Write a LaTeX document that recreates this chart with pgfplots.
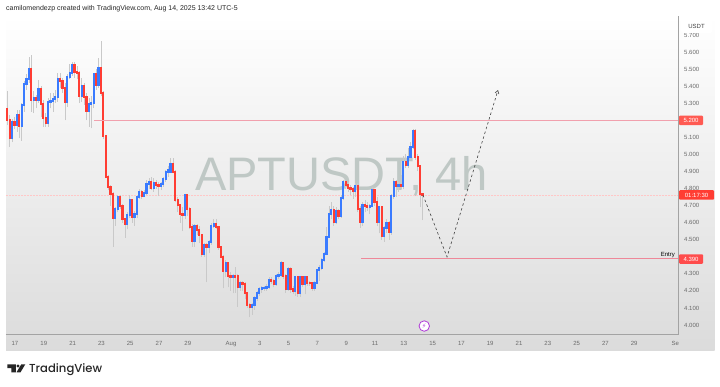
\documentclass[border=0pt]{standalone}
\usepackage{fontspec}
\setmainfont{Liberation Sans}
\newfontfamily\tvfont{Poppins}[UprightFont=* Medium]
\newfontfamily\djv{DejaVu Sans}
\usepackage{pgfplots}
\usepackage{pgfplotstable}
\pgfplotsset{compat=1.18}
\usetikzlibrary{arrows.meta}
\definecolor{cblue}{HTML}{3A7BFF}
\definecolor{cred}{HTML}{FF3D33}
\definecolor{wick}{HTML}{C9C9C9}
\definecolor{axgray}{HTML}{A3A3A3}
\definecolor{labgray}{HTML}{6A6A6A}
\definecolor{wm}{HTML}{BFC8C5}
\definecolor{entryc}{HTML}{EE8899}
\definecolor{bolt}{HTML}{B03CD8}
\pgfplotstableread{
i o c h l
0 5.266 5.201 5.373 5.172
1 5.201 5.094 5.23 5.045
2 5.094 5.192 5.21 5.07
3 5.192 5.172 5.22 5.15
4 5.172 5.231 5.26 5.13
5 5.231 5.166 5.26 5.094
6 5.166 5.289 5.30 5.08
7 5.289 5.412 5.43 5.25
8 5.412 5.440 5.47 5.38
9 5.440 5.500 5.573 5.42
10 5.500 5.319 5.582 5.250
11 5.319 5.328 5.37 5.24
12 5.328 5.318 5.35 5.27
13 5.318 5.381 5.436 5.30
14 5.381 5.295 5.40 5.22
15 5.295 5.211 5.32 5.162
16 5.211 5.186 5.24 5.162
17 5.186 5.309 5.33 5.16
18 5.309 5.315 5.36 5.27
19 5.315 5.323 5.36 5.25
20 5.323 5.338 5.38 5.30
21 5.338 5.440 5.479 5.31
22 5.440 5.432 5.475 5.39
23 5.432 5.387 5.45 5.36
24 5.387 5.309 5.42 5.20
25 5.309 5.455 5.47 5.28
26 5.455 5.479 5.53 5.44
27 5.479 5.524 5.543 5.46
28 5.524 5.485 5.54 5.45
29 5.485 5.475 5.52 5.44
30 5.475 5.342 5.49 5.30
31 5.342 5.403 5.45 5.31
32 5.403 5.338 5.42 5.29
33 5.338 5.254 5.36 5.20
34 5.254 5.295 5.33 5.162
35 5.295 5.30 5.34 5.153
36 5.30 5.471 5.48 5.27
37 5.471 5.407 5.50 5.38
38 5.407 5.508 5.563 5.39
39 5.508 5.358 5.665 5.34
40 5.358 5.108 5.37 5.09
41 5.108 4.870 5.11 4.86
42 4.870 4.807 4.88 4.79
43 4.807 4.768 4.82 4.70
44 4.768 4.625 4.78 4.46
45 4.625 4.678 4.69 4.58
46 4.678 4.748 4.76 4.66
47 4.748 4.698 4.76 4.68
48 4.698 4.619 4.71 4.60
49 4.619 4.592 4.63 4.51
50 4.592 4.645 4.66 4.56
51 4.645 4.733 4.76 4.63
52 4.733 4.631 4.74 4.60
53 4.631 4.651 4.67 4.58
54 4.651 4.748 4.76 4.63
55 4.748 4.782 4.80 4.74
56 4.782 4.756 4.79 4.74
57 4.756 4.772 4.79 4.75
58 4.772 4.827 4.85 4.76
59 4.827 4.840 4.86 4.80
60 4.840 4.801 4.865 4.79
61 4.801 4.834 4.86 4.78
62 4.834 4.821 4.85 4.80
63 4.821 4.815 4.84 4.755
64 4.815 4.825 4.84 4.79
65 4.825 4.854 4.87 4.81
66 4.854 4.899 4.91 4.84
67 4.899 4.907 4.93 4.87
68 4.900 4.944 4.98 4.89
69 4.944 4.899 4.98 4.89
70 4.899 4.733 4.91 4.72
71 4.733 4.703 4.75 4.66
72 4.703 4.651 4.71 4.60
73 4.651 4.643 4.69 4.55
74 4.643 4.762 4.77 4.62
75 4.762 4.678 4.77 4.64
76 4.678 4.576 4.69 4.56
77 4.576 4.494 4.59 4.46
78 4.494 4.580 4.59 4.46
79 4.580 4.557 4.59 4.53
80 4.557 4.527 4.58 4.48
81 4.527 4.416 4.53 4.40
82 4.416 4.469 4.48 4.40
83 4.469 4.459 4.48 4.25
84 4.459 4.488 4.50 4.42
85 4.488 4.582 4.60 4.47
86 4.582 4.590 4.62 4.57
87 4.590 4.576 4.62 4.56
88 4.576 4.455 4.58 4.44
89 4.455 4.400 4.46 4.39
90 4.400 4.316 4.41 4.215
91 4.316 4.365 4.38 4.28
92 4.365 4.287 4.37 4.22
93 4.287 4.279 4.31 4.20
94 4.279 4.287 4.30 4.186
95 4.287 4.279 4.34 4.19
96 4.287 4.225 4.30 4.107
97 4.225 4.244 4.26 4.20
98 4.244 4.238 4.26 4.20
99 4.238 4.186 4.25 4.15
100 4.186 4.117 4.19 4.10
101 4.117 4.104 4.13 4.045
102 4.104 4.117 4.13 4.06
103 4.117 4.156 4.17 4.09
104 4.156 4.186 4.20 4.14
105 4.186 4.211 4.22 4.17
106 4.211 4.215 4.23 4.19
107 4.215 4.219 4.23 4.20
108 4.219 4.225 4.24 4.20
109 4.225 4.264 4.28 4.21
110 4.264 4.258 4.28 4.24
111 4.258 4.240 4.27 4.22
112 4.240 4.287 4.30 4.23
113 4.287 4.295 4.31 4.27
114 4.295 4.365 4.377 4.28
115 4.365 4.287 4.37 4.27
116 4.287 4.209 4.30 4.19
117 4.209 4.328 4.34 4.20
118 4.328 4.209 4.34 4.19
119 4.209 4.201 4.23 4.18
120 4.201 4.283 4.29 4.17
121 4.283 4.189 4.29 4.166
122 4.189 4.283 4.29 4.166
123 4.283 4.238 4.29 4.22
124 4.238 4.279 4.29 4.18
125 4.279 4.248 4.29 4.23
126 4.248 4.244 4.26 4.23
127 4.244 4.215 4.25 4.20
128 4.215 4.248 4.26 4.20
129 4.248 4.322 4.33 4.24
130 4.322 4.332 4.35 4.26
131 4.332 4.381 4.39 4.32
132 4.381 4.416 4.43 4.37
133 4.416 4.518 4.576 4.41
134 4.518 4.651 4.70 4.51
135 4.651 4.674 4.72 4.62
136 4.674 4.602 4.70 4.58
137 4.602 4.668 4.69 4.59
138 4.668 4.639 4.68 4.62
139 4.639 4.742 4.76 4.63
140 4.742 4.836 4.85 4.73
141 4.836 4.821 4.85 4.80
142 4.821 4.801 4.84 4.78
143 4.801 4.797 4.82 4.76
144 4.797 4.787 4.81 4.74
145 4.787 4.817 4.83 4.75
146 4.817 4.680 4.83 4.66
147 4.680 4.606 4.70 4.57
148 4.606 4.703 4.72 4.58
149 4.703 4.699 4.73 4.66
150 4.699 4.692 4.72 4.67
151 4.692 4.699 4.71 4.65
152 4.699 4.791 4.81 4.69
153 4.791 4.723 4.80 4.70
154 4.723 4.606 4.75 4.58
155 4.606 4.690 4.70 4.537
156 4.690 4.524 4.70 4.50
157 4.524 4.566 4.58 4.488
158 4.566 4.600 4.62 4.54
159 4.600 4.547 4.61 4.50
160 4.547 4.756 4.77 4.53
161 4.756 4.840 4.86 4.74
162 4.840 4.815 4.85 4.75
163 4.815 4.821 4.84 4.78
164 4.821 4.815 4.88 4.80
165 4.815 4.953 4.99 4.80
166 4.953 4.938 5.00 4.92
167 4.938 4.987 5.035 4.92
168 4.987 5.045 5.07 4.97
169 5.045 5.137 5.147 5.03
170 5.137 4.987 5.147 4.97
171 4.987 4.932 5.00 4.90
172 4.932 4.768 4.94 4.69
173 4.768 4.762 4.77 4.615
}\candles
\begin{document}
\begin{tikzpicture}[x=1pt,y=1pt]
\path[use as bounding box] (0,0) rectangle (720,386);
\fill[white] (0,0) rectangle (720,386);
\shade[top color=white,bottom color=black!14] (6,36) rectangle (714.5,370);
\node[anchor=base,text=wm,inner sep=0pt] at (341.5,195) {\fontsize{47}{50}\selectfont APTUSDT, 4h};
\node[anchor=west,inner sep=0pt,text=black!85] at (6,377) {\fontsize{7}{8}\selectfont camilomendezp created with TradingView.com, Aug 14, 2025 13:42 UTC-5};
\begin{axis}[
  at={(6pt,51.4pt)},anchor=south west,
  scale only axis,width=672pt,height=318.6pt,
  xmin=-0.625,xmax=46.04,ymin=3.9437,ymax=5.8113,
  axis x line=bottom,axis y line=right,
  axis line style={draw=axgray,line width=0.9pt,-},
  tick style={draw=none},
  xtick={0,2,4,6,8,10,12,15,17,19,21,23,25,27,29,31,33,35,37,39,41,43,45.85},
  xticklabels={17,19,21,23,25,27,29,Aug,3,5,7,9,11,13,15,17,19,21,23,25,27,29,Se},
  ytick={4.0,4.1,4.2,4.3,4.5,4.6,4.7,4.8,4.9,5.0,5.1,5.3,5.4,5.5,5.6,5.7},
  ticklabel style={font=\fontsize{6}{7}\selectfont,text=labgray},
  xticklabel style={yshift=-1.5pt},
  yticklabel style={xshift=0.5pt,/pgf/number format/.cd,fixed,fixed zerofill,precision=3,assume math mode=true},
  clip=true,
]
\addplot[red!22!white,line width=0.5pt,densely dotted,forget plot] coordinates {(-0.625,4.762) (46.04,4.762)};
\addplot[draw=none,mark=none,forget plot,error bars/.cd,y dir=plus,y explicit,error mark=none,error bar style={draw=wick,line width=0.7pt}]
  table[x expr=\thisrow{i}/6-0.533,y=l,y error plus expr=\thisrow{h}-\thisrow{l},y error minus expr=0]{\candles};
\addplot[draw=none,mark=none,forget plot,restrict expr to domain={\thisrow{c}-\thisrow{o}}{0:10},error bars/.cd,y dir=plus,y explicit,error mark=none,error bar style={draw=cblue,line width=2.1pt,line cap=rect}]
  table[x expr=\thisrow{i}/6-0.533,y=o,y error plus expr=\thisrow{c}-\thisrow{o},y error minus expr=0]{\candles};
\addplot[draw=none,mark=none,forget plot,restrict expr to domain={\thisrow{o}-\thisrow{c}}{0.0001:10},error bars/.cd,y dir=plus,y explicit,error mark=none,error bar style={draw=cred,line width=2.1pt,line cap=rect}]
  table[x expr=\thisrow{i}/6-0.533,y=c,y error plus expr=\thisrow{o}-\thisrow{c},y error minus expr=0]{\candles};
\addplot[color=entryc!80!white,line width=0.8pt,forget plot] coordinates {(5.49,5.2) (46.04,5.2)};
\addplot[color=entryc,line width=0.7pt,forget plot] coordinates {(24.03,4.39) (46.04,4.39)};
\addplot[black!75,line width=0.6pt,dash pattern=on 2.5pt off 2.5pt,forget plot,-{Straight Barb[length=3pt,width=4pt]}] coordinates {(28.33,4.762) (30.0,4.399) (33.54,5.377)};
\node[circle,draw=bolt,fill=white,line width=0.8pt,minimum size=10.5pt,inner sep=0pt,text=bolt] at (axis cs:28.42,3.994) {\djv\fontsize{6.5}{7}\selectfont ⚡};
\end{axis}
\node[anchor=south east,inner sep=0pt,text=black] at (675,128.5) {\fontsize{6}{7}\selectfont Entry};
\node[fill=cred!85!white,text=white,inner sep=0pt,minimum width=24pt,minimum height=9.5pt,rounded corners=1pt] at (691,265.7) {\fontsize{6}{7}\selectfont 5.200};
\node[fill=cred,text=white,inner sep=0pt,minimum width=35pt,minimum height=9.5pt,rounded corners=1pt] at (696.5,191) {\fontsize{6}{7}\selectfont 01:17:30};
\node[fill=red!70!white,text=white,inner sep=0pt,minimum width=24pt,minimum height=9.5pt,rounded corners=1pt] at (691,127) {\fontsize{6}{7}\selectfont 4.390};
\node[fill=white,text=black!75,inner sep=0pt,minimum width=31pt,minimum height=14pt,rounded corners=1.5pt] at (696.5,360) {\fontsize{6}{7}\selectfont USDT};
\fill[black!85] (7.3,21.7) -- (15.8,21.7) -- (15.8,13.7) -- (11.3,13.7) -- (11.3,18) -- (7.3,18) -- cycle;
\fill[black!85] (18,20) circle (1.7);
\fill[black!85] (21.3,21.7) -- (25.3,21.7) -- (20.5,13.7) -- (16.5,13.7) -- cycle;
\node[anchor=base west,inner sep=0pt,text=black!85] at (29,13.5) {\tvfont\fontsize{11.6}{14}\selectfont TradingView};
\end{tikzpicture}
\end{document}
